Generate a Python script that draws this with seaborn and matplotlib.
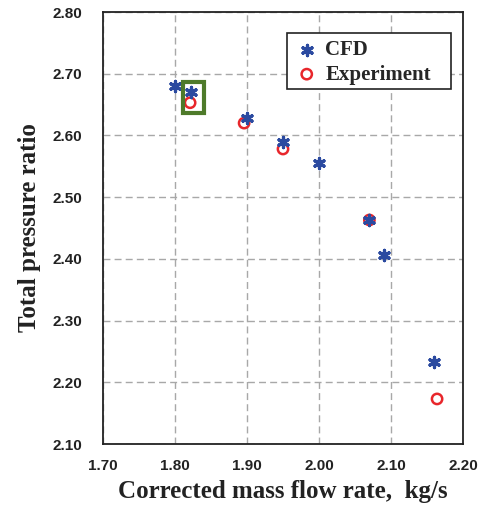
import matplotlib
matplotlib.use("Agg")
import matplotlib.pyplot as plt
from matplotlib.patches import Rectangle
from matplotlib.ticker import MultipleLocator, FormatStrFormatter
import seaborn as sns
import pandas as pd

# Compressor performance: CFD vs experiment
cfd_flow = [1.800, 1.822, 1.900, 1.950, 2.000, 2.070, 2.090, 2.160]
cfd_pr = [2.680, 2.670, 2.628, 2.590, 2.555, 2.463, 2.406, 2.233]
exp_flow = [1.821, 1.896, 1.950, 2.070, 2.164]
exp_pr = [2.653, 2.620, 2.578, 2.463, 2.173]

# Highlighted design point box (flow range, pressure ratio range)
box_flow = [1.811, 1.840]
box_pr = [2.637, 2.686]

x_ticks = [1.70, 1.80, 1.90, 2.00, 2.10, 2.20]
y_ticks = [2.10, 2.20, 2.30, 2.40, 2.50, 2.60, 2.70, 2.80]

sns.set_style("white")
plt.rcParams["font.family"] = ["Liberation Sans", "DejaVu Sans"]

cfd = pd.DataFrame({"flow": cfd_flow, "pr": cfd_pr})
exp = pd.DataFrame({"flow": exp_flow, "pr": exp_pr})

fig = plt.figure(figsize=(4.84, 5.13), dpi=100)
ax = fig.add_axes([0.2128, 0.1345, 0.7438, 0.8421])

sns.scatterplot(data=cfd, x="flow", y="pr", ax=ax, marker=(6, 2, 0), s=55,
                color="#2b4aa0", edgecolor="#2b4aa0", linewidth=2.3,
                label="CFD", zorder=4)
sns.scatterplot(data=exp, x="flow", y="pr", ax=ax, marker="o", s=55,
                facecolor="none", edgecolor="#e8262b", linewidth=1.8,
                label="Experiment", zorder=3)

ax.add_patch(Rectangle((box_flow[0], box_pr[0]), box_flow[1] - box_flow[0],
                       box_pr[1] - box_pr[0], fill=False,
                       edgecolor="#4e7a2a", linewidth=3, zorder=5))

ax.set_xlim(x_ticks[0], x_ticks[-1])
ax.set_ylim(y_ticks[0], y_ticks[-1])
ax.set_xticks(x_ticks)
ax.set_yticks(y_ticks)
ax.xaxis.set_major_formatter(FormatStrFormatter("%.2f"))
ax.yaxis.set_major_formatter(FormatStrFormatter("%.2f"))
ax.xaxis.set_minor_locator(MultipleLocator(0.05))
ax.yaxis.set_minor_locator(MultipleLocator(0.02))

ax.grid(True, which="major", color="#a8a8a8", linestyle=(0, (5, 3)), linewidth=1)
ax.set_axisbelow(True)

for side in ax.spines.values():
    side.set_color("#222222")
    side.set_linewidth(1.3)

ax.tick_params(axis="both", which="major", direction="in", length=4, width=1.2,
               labelsize=11, top=False, right=False)
ax.tick_params(axis="y", which="major", pad=15)
ax.tick_params(axis="x", which="major", pad=11)
ax.tick_params(axis="both", which="minor", direction="in", length=3, width=1.2,
               top=False, right=False)
for lab in ax.get_xticklabels() + ax.get_yticklabels():
    lab.set_fontweight("bold")
    lab.set_color("#222222")

serif = ["Liberation Serif", "DejaVu Serif"]
ax.set_xlabel("Corrected mass flow rate,  kg/s", fontsize=18, fontweight="bold",
              family=serif, color="#222222", labelpad=5)
ax.set_ylabel("Total pressure ratio", fontsize=18, fontweight="bold",
              family=serif, color="#222222", labelpad=8)

# Legend box drawn separately so its padding can be set on each side
ax.add_patch(Rectangle((0.511, 0.822), 0.456, 0.129, transform=ax.transAxes,
                       facecolor="white", edgecolor="#222222", linewidth=1.2,
                       zorder=6))
leg = ax.legend(loc="upper left", bbox_to_anchor=(0.511, 0.951), frameon=False,
                prop={"family": serif, "weight": "bold", "size": 15},
                handletextpad=0.3, borderpad=0.35, labelspacing=0.2,
                handlelength=1.2, borderaxespad=0)
leg.set_zorder(7)

fig.savefig("out.png", dpi=100)
